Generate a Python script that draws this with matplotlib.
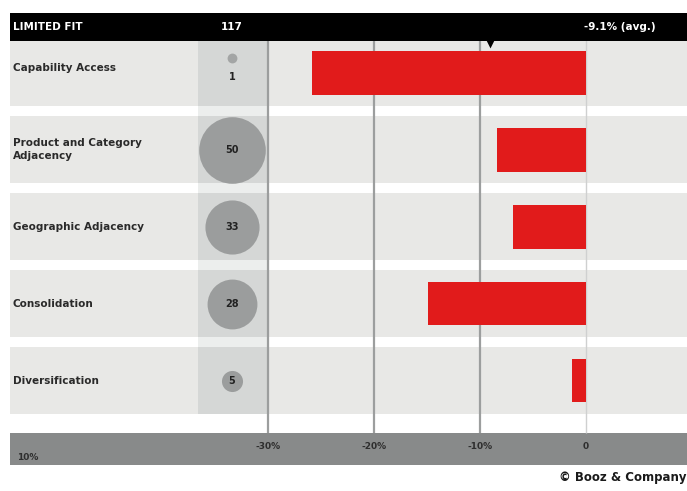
import matplotlib
matplotlib.use('Agg')
from matplotlib import pyplot as plt
from matplotlib.patches import Rectangle

# Data
categories = ['Capability Access', 'Product and Category\nAdjacency',
              'Geographic Adjacency', 'Consolidation', 'Diversification']
deal_counts = [1, 50, 33, 28, 5]
value_change = [-25.8, -8.4, -6.9, -14.9, -1.3]
total_deals = 117
avg_change = -9.1
header_label = 'LIMITED FIT'
x_ticks = [-30, -20, -10, 0]
x_tick_labels = ['-30%', '-20%', '-10%', '0']

plt.rcParams['font.family'] = ['Liberation Sans Narrow', 'DejaVu Sans']

fig = plt.figure(figsize=(6.87, 4.91), dpi=100)
ax = fig.add_axes([0, 0, 1, 1])
x_left, x_right = -55.28, 9.53
ax.set_xlim(x_left, x_right)
ax.set_ylim(5.435, -0.942)
ax.axis('off')

n = len(categories)
rows = list(range(n))
half = 0.43
edge = -54.34
header_top, header_bottom = -0.773, -0.409
band_top, band_bottom = 4.68, 5.10
bubble_x = -33.4
col_left, col_right = -36.6, -30.0

# Row bands
for i in rows:
    top = max(i - half, header_bottom)
    ax.add_patch(Rectangle((edge, top), x_right - edge, i + half - top,
                           color='#e8e8e6', lw=0, zorder=0))

# Bubble column
ax.add_patch(Rectangle((col_left, header_bottom), col_right - col_left,
                       n - 1 + half - header_bottom, color='#eceeed', lw=0, zorder=0.5))
for i in rows:
    top = max(i - half, header_bottom)
    ax.add_patch(Rectangle((col_left, top), col_right - col_left, i + half - top,
                           color='#d5d7d6', lw=0, zorder=0.6))

# Grid lines
ax.vlines(x_ticks[:-1], header_top, band_top, color='#9c9e9e', lw=1.6, zorder=2)
ax.vlines(x_ticks[-1:], header_top, band_top, color='#cfd0d0', lw=1.0, zorder=2)

# Bars
ax.barh(rows, value_change, height=0.571, color='#e11b1b', zorder=3)

# Bubbles
for i, c in zip(rows, deal_counts):
    if c < 3:
        ax.scatter([bubble_x], [i - 0.19], s=50 * c, color='#a3a5a5', lw=0, zorder=3)
        ax.text(bubble_x, i + 0.06, str(c), ha='center', va='center',
                fontsize=7, fontweight='bold', color='#222222', zorder=4)
    else:
        ax.scatter([bubble_x], [i], s=46 * c, color='#9b9d9d', lw=0, zorder=3)
        ax.text(bubble_x, i, str(c), ha='center', va='center',
                fontsize=7, fontweight='bold', color='#222222', zorder=4)

# Row labels
for i, cat in zip(rows, categories):
    ax.text(-54.1, i - (0.06 if i == 0 else 0), cat, ha='left', va='center',
            fontsize=7.5, fontweight='bold', color='#2a2a2a', linespacing=1.3, zorder=4)

# Header
ax.add_patch(Rectangle((edge, header_top), x_right - edge, header_bottom - header_top,
                       color='black', lw=0, zorder=5))
hy = (header_top + header_bottom) / 2
ax.text(-54.1, hy, header_label, ha='left', va='center', color='white',
        fontsize=7.5, fontweight='bold', zorder=6)
ax.text(bubble_x, hy, str(total_deals), ha='center', va='center', color='white',
        fontsize=7.5, fontweight='bold', zorder=6)
ax.text(3.2, hy, '%.1f%% (avg.)' % avg_change, ha='center', va='center', color='white',
        fontsize=7.5, fontweight='bold', zorder=6)
ax.scatter([avg_change], [-0.37], marker='v', s=32, color='black', lw=0, zorder=6)

# Axis band
ax.add_patch(Rectangle((edge, band_top), x_right - edge, band_bottom - band_top,
                       color='#888a8a', lw=0, zorder=1))
for t, lab in zip(x_ticks, x_tick_labels):
    ax.text(t, 4.86, lab, ha='center', va='center', fontsize=6.5,
            fontweight='bold', color='#2e2e2e', zorder=4)
ax.text(-53.7, 5.0, '10%', ha='left', va='center', fontsize=6.5,
        fontweight='bold', color='#2e2e2e', zorder=4)

fig.text(0.999, 1 - 478 / 491, '\u00a9 Booz & Company', ha='right', va='center',
         fontsize=8.5, fontweight='bold', color='#1a1a1a')

plt.savefig('out.png', dpi=100, facecolor='white')
